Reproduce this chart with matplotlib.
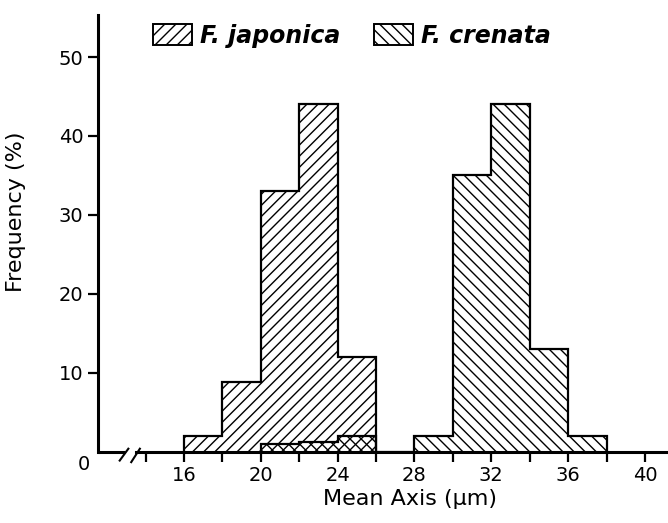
import matplotlib
matplotlib.use("Agg")
import matplotlib.pyplot as plt
from matplotlib.patches import Patch
import numpy as np

# データ
bin_edges_jap = [16, 18, 20, 22, 24, 26]
freq_jap = [2.0, 8.8, 33.0, 44.0, 12.0]

bin_edges_cre = [20, 22, 24, 26, 28, 30, 32, 34, 36, 38]
freq_cre = [1.0, 1.2, 2.0, 0.0, 2.0, 35.0, 44.0, 13.0, 2.0]

species = ["F. japonica", "F. crenata"]
hatches = ["///", "\\\\\\"]

x_ticks = list(range(14, 41, 2))
x_labeled = [16, 20, 24, 28, 32, 36, 40]
y_ticks = [10, 20, 30, 40, 50]

plt.rcParams['font.family'] = ['DejaVu Sans']
plt.rcParams['hatch.linewidth'] = 1.0

fig = plt.figure(figsize=(6.68, 5.23), dpi=100)
ax = fig.add_axes([0.147, 0.136, 0.853, 0.835])

# ヒストグラム（階段状の外形）
ax.stairs(freq_jap, bin_edges_jap, fill=True, facecolor='white',
          edgecolor='black', linewidth=1.6, hatch=hatches[0], zorder=1)
ax.stairs(freq_cre, bin_edges_cre, fill=True, facecolor='none',
          edgecolor='black', linewidth=1.6, hatch=hatches[1], zorder=1.2)

ax.set_xlim(11.53, 41.2)
ax.set_ylim(0, 55.3)

# 軸の体裁
for s in ['top', 'right']:
    ax.spines[s].set_visible(False)
ax.spines['left'].set_linewidth(2.2)
ax.spines['bottom'].set_linewidth(2.2)
ax.spines['bottom'].set_bounds(13.5, 41.2)

# 軸の省略記号（//）
ax.plot([11.53, 12.9], [0, 0], color='black', lw=2.2, clip_on=False,
        solid_capstyle='butt')
ax.plot([12.65, 13.1], [-1.1, 0.4], color='black', lw=1.5, clip_on=False)
ax.plot([13.25, 13.7], [-1.3, 0.4], color='black', lw=1.5, clip_on=False)

ax.set_xticks(x_ticks)
ax.set_xticklabels([str(t) if t in x_labeled else '' for t in x_ticks])
ax.set_yticks(y_ticks)
ax.tick_params(axis='both', direction='out', length=7, width=1.6,
               labelsize=14, pad=3.5)

ax.text(-0.014, -1.65, "0", transform=ax.get_yaxis_transform(),
        ha='right', va='center', fontsize=14)

ax.set_xlabel("Mean Axis (μm)", fontsize=16)
ax.xaxis.set_label_coords(0.547, -0.085)
ax.set_ylabel("Frequency (%)", fontsize=16)
ax.yaxis.set_label_coords(-0.126, 0.549)

# 凡例
handles = [Patch(facecolor='white', edgecolor='black', hatch=h, linewidth=1.4)
           for h in hatches]
leg = ax.legend(handles, species, loc='upper left', ncol=2,
                bbox_to_anchor=(153 / 668, 1 - 24 / 523),
                bbox_transform=fig.transFigure, frameon=False,
                prop={'size': 17, 'weight': 'bold', 'style': 'italic'},
                handlelength=1.65, handleheight=1.0, handletextpad=0.35,
                columnspacing=1.4, borderpad=0, borderaxespad=0)

fig.savefig("out.png", dpi=100)
